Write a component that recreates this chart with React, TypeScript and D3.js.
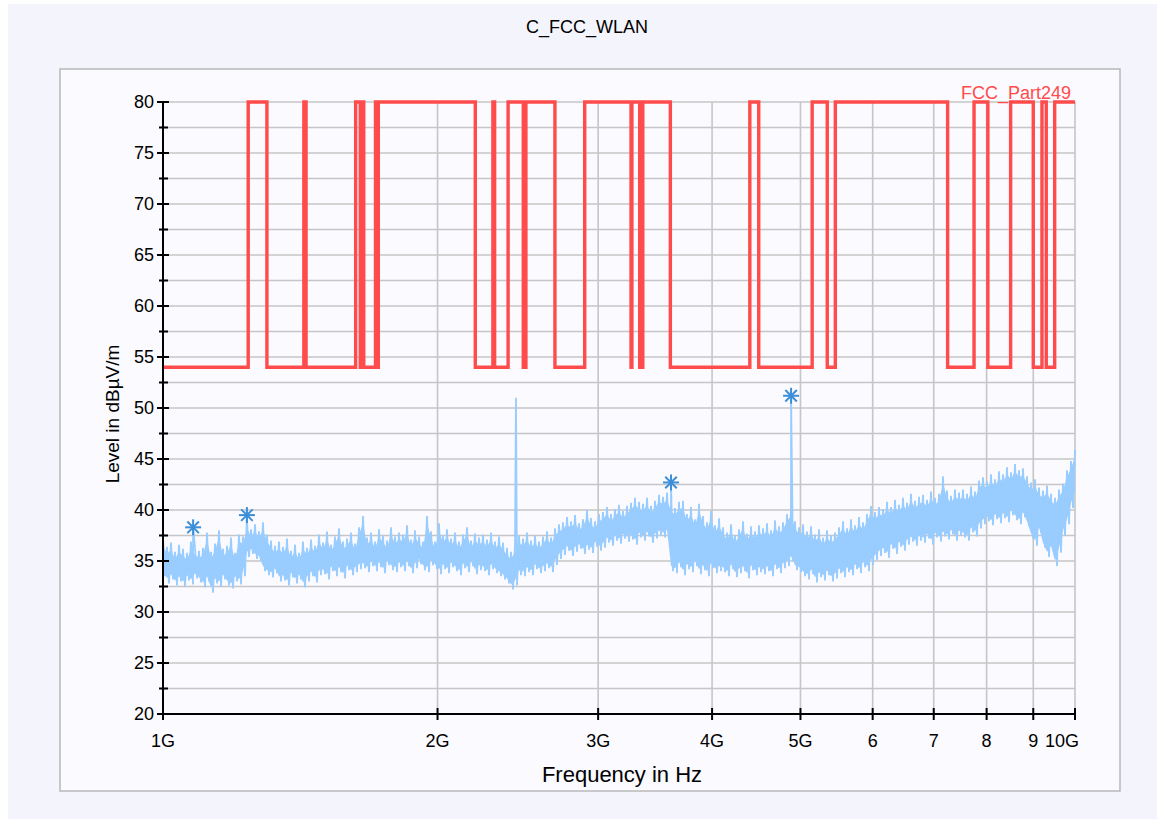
import React from "react";
import * as d3 from "d3";

// ---------- data ----------
const title = "C_FCC_WLAN";
const limitName = "FCC_Part249";
const xTickValues = [1e9, 2e9, 3e9, 4e9, 5e9, 6e9, 7e9, 8e9, 9e9, 1e10];
const xTickLabels = ["1G", "2G", "3G", "4G", "5G", "6", "7", "8", "9", "10G"];
const yMajorTicks = [20, 25, 30, 35, 40, 45, 50, 55, 60, 65, 70, 75, 80];
const yMinorTicks = [22.5, 27.5, 32.5, 37.5, 42.5, 47.5, 52.5, 57.5, 62.5, 67.5, 72.5, 77.5];

// limit line: band edges in GHz and level per band (dBµV/m)
const limitEdgesGHz = [1.0, 1.24, 1.3, 1.427, 1.435, 1.6265, 1.6455, 1.6465, 1.66, 1.71, 1.7188, 1.7222, 2.2, 2.3, 2.31, 2.39, 2.4835, 2.5, 2.69, 2.9, 3.26, 3.267, 3.332, 3.339, 3.3458, 3.358, 3.6, 4.4, 4.5, 5.15, 5.35, 5.46, 7.25, 7.75, 8.025, 8.5, 9.0, 9.2, 9.3, 9.5, 10.0];
const limitLevels = [54, 80, 54, 80, 54, 80, 54, 80, 54, 80, 54, 80, 54, 80, 54, 80, 54, 80, 54, 80, 54, 80, 54, 80, 54, 80, 54, 80, 54, 80, 54, 80, 54, 80, 54, 80, 54, 80, 54, 80];

// measured trace: per display bin (log-spaced 1..10 GHz) max and min values
const traceMax = [
  37.2, 36.4, 36.8, 35.9, 36.6, 36.2, 35.8, 36.9, 36.3, 36.0,
  36.3, 37.8, 35.9, 36.7, 38.0, 36.2, 36.5, 37.3, 35.8, 37.6,
  37.4, 38.9, 38.1, 38.6, 37.9, 38.8, 37.6, 37.0, 36.5, 36.9,
  36.4, 37.2, 36.0, 36.6, 35.8, 36.9, 36.3, 37.1, 36.5, 37.6,
  36.8, 37.9, 36.6, 37.4, 38.2, 36.9, 37.2, 37.8, 36.7, 38.3,
  39.4, 37.3, 37.8, 36.9, 38.1, 37.5, 37.0, 38.3, 37.4, 37.8,
  37.6, 38.5, 37.1, 38.0, 37.4, 36.9, 39.4, 37.9, 36.9, 38.7,
  37.5, 38.1, 37.2, 37.8, 36.9, 37.6, 38.3, 37.0, 37.7, 37.3,
  37.6, 37.1, 37.8, 36.9, 37.4, 36.8, 36.3, 35.9, 36.6, 37.5,
  37.2, 37.8, 37.0, 37.5, 36.9, 37.4, 37.9, 37.3, 38.2, 38.6,
  38.8, 39.3, 38.9, 39.5, 38.7, 39.1, 40.0, 39.2, 38.9, 39.6,
  39.8, 40.3, 39.6, 40.1, 40.5, 39.9, 40.4, 40.7, 41.2, 40.8,
  40.6, 41.2, 40.4, 40.9, 41.5, 41.3, 41.7, 40.6, 40.2, 40.8,
  40.9, 39.6, 40.3, 39.1, 40.6, 39.4, 38.8, 39.9, 38.5, 39.2,
  38.3, 37.8, 38.6, 37.5, 38.1, 38.9, 37.7, 38.4, 37.9, 38.5,
  38.2, 38.7, 38.0, 39.0, 38.4, 38.8, 39.6, 40.1, 38.9, 38.3,
  38.6, 37.9, 38.4, 37.6, 38.1, 37.3, 38.0, 37.5, 37.8, 38.3,
  38.9, 38.2, 39.1, 38.5, 39.3, 38.8, 39.6, 40.4, 39.8, 40.3,
  40.1, 40.8, 40.3, 41.0, 40.5, 41.2, 40.7, 41.6, 40.9, 41.3,
  41.5, 41.0, 41.8, 41.2, 41.6, 43.3, 41.9, 41.4, 42.0, 41.7,
  42.0, 41.6, 42.3, 41.8, 42.9, 43.2, 42.8, 43.5, 43.0, 43.8,
  43.5, 44.2, 43.7, 44.5, 43.9, 44.1, 43.3, 42.7, 43.0, 42.2,
  41.9, 42.4, 41.6, 41.2, 42.0, 42.6, 43.9, 44.8, 45.9,
];
const traceMin = [
  33.5, 32.8, 33.2, 32.6, 33.0, 32.5, 33.1, 32.7, 33.3, 32.9,
  32.4, 33.0, 31.9, 32.8, 32.5, 33.2, 32.6, 32.3, 33.0, 32.7,
  33.5, 35.4, 35.7, 35.2, 35.0, 34.0, 33.6, 33.4, 33.8, 33.0,
  33.1, 32.6, 33.4, 32.8, 33.2, 32.4, 33.0, 33.5, 32.9, 33.6,
  33.7, 33.2, 34.0, 33.5, 33.9, 33.3, 34.1, 33.6, 33.9, 34.2,
  34.3, 33.9, 34.5, 34.0, 34.4, 33.8, 34.6, 34.1, 33.9, 34.4,
  34.0, 34.5, 33.8, 34.3, 34.7, 34.1, 33.9, 34.6, 34.2, 33.7,
  34.2, 33.8, 34.4, 34.0, 33.6, 34.3, 33.9, 34.5, 33.7, 34.1,
  34.0, 33.6, 34.2, 33.8, 33.5, 33.2, 32.8, 32.2, 32.6, 33.6,
  33.5, 33.9, 33.6, 34.2, 33.8, 34.0, 34.3, 33.9, 34.6, 35.2,
  35.6, 36.0, 35.5, 35.9, 36.2, 35.7, 36.1, 35.8, 36.4, 36.0,
  36.3, 36.8, 36.5, 37.0, 36.7, 37.2, 36.9, 37.1, 36.6, 37.3,
  37.0, 37.4, 36.8, 37.2, 37.5, 37.3, 37.6, 34.0, 33.8, 34.4,
  33.6, 34.2, 33.9, 34.5, 33.7, 34.1, 33.5, 34.3, 33.8, 34.0,
  33.9, 33.5, 34.2, 33.4, 33.8, 34.0, 33.3, 34.1, 33.6, 33.9,
  33.7, 34.0, 33.5, 34.2, 33.8, 34.3, 34.5, 35.0, 34.1, 33.9,
  33.5, 33.2, 33.7, 32.9, 33.4, 33.1, 33.6, 33.0, 33.3, 33.8,
  33.4, 33.9, 33.6, 34.2, 33.8, 34.4, 34.0, 34.6, 35.1, 35.5,
  35.8, 35.3, 36.2, 35.7, 36.4, 36.0, 36.6, 36.9, 36.5, 37.0,
  36.8, 37.2, 36.6, 37.3, 36.9, 37.4, 37.1, 37.6, 37.0, 37.5,
  37.3, 37.0, 37.8, 37.4, 38.2, 38.6, 38.9, 38.5, 39.1, 38.7,
  39.2, 38.8, 39.5, 39.0, 38.6, 39.3, 38.4, 37.2, 36.5, 37.8,
  36.3, 35.4, 36.0, 34.5, 35.8, 37.5, 38.6, 40.2, 41.3,
];

// narrow emissions in the trace (GHz, dBµV/m)
const peakFreqGHz = [1.079, 1.236, 2.438, 3.606, 4.883];
const peakLevel = [38.3, 39.4, 51.0, 42.6, 51.1];

// markers
const markerFreqGHz = [1.079, 1.236, 3.606, 4.883];
const markerLevel = [38.3, 39.5, 42.7, 51.2];

// ---------- layout ----------
const W = 1165;
const H = 825;
const plotLeft = 163;
const plotRight = 1075;
const plotTop = 102;
const plotBottom = 714;
const FONT = "'Liberation Sans', Arial, sans-serif";

export default function App() {
  const x = d3.scaleLog().domain([1e9, 1e10]).range([plotLeft, plotRight]);
  const y = d3.scaleLinear().domain([20, 80]).range([plotBottom, plotTop]);

  // limit points
  const limitPts: [number, number][] = [];
  limitLevels.forEach((lv, i) => {
    limitPts.push([limitEdgesGHz[i] * 1e9, lv]);
    limitPts.push([limitEdgesGHz[i + 1] * 1e9, lv]);
  });
  const limitLine = d3
    .line<[number, number]>()
    .x((d) => x(d[0]))
    .y((d) => y(d[1]));

  // trace points
  const n = traceMax.length - 1;
  const binFreq = traceMax.map((_, i) => Math.pow(10, 9 + i / n));
  const tracePts: [number, number][] = [];
  traceMax.forEach((hi, i) => {
    tracePts.push([binFreq[i], hi]);
    if (i < n) {
      const fLo = Math.pow(10, 9 + (i + 0.5) / n);
      tracePts.push([fLo, traceMin[i]]);
    }
  });
  peakFreqGHz.forEach((f, i) => tracePts.push([f * 1e9, peakLevel[i]]));
  tracePts.sort((a, b) => a[0] - b[0]);
  const traceLine = d3
    .line<[number, number]>()
    .x((d) => x(d[0]))
    .y((d) => y(d[1]));

  // solid core of the noise band (between each bin's min and max, drawn slightly inside)
  const bandArea = d3
    .area<number>()
    .x((_, i) => x(binFreq[i]))
    .y0((_, i) => y(traceMin[i] + 0.5))
    .y1((_, i) => y(traceMax[i] - 0.7));

  const gridColor = "#c6c6c6";
  const traceColor = "#99ccff";

  return (
    <svg
      width={W}
      height={H}
      style={{ position: "absolute", left: 0, top: 0 }}
      xmlns="http://www.w3.org/2000/svg"
    >
      <rect x={0} y={0} width={W} height={H} fill="#ffffff" />
      <rect x={8} y={4} width={W - 16} height={H - 10} fill="#f4f5fc" />
      <text
        x={587}
        y={33}
        textAnchor="middle"
        fontFamily={FONT}
        fontSize={18}
        fill="#000"
      >
        {title}
      </text>
      {/* panel */}
      <rect
        x={60}
        y={69}
        width={1060}
        height={722}
        fill="#fafaff"
        stroke="#b8b8b8"
        strokeWidth={1.5}
      />

      {/* grid */}
      {yMajorTicks.concat(yMinorTicks).map((v) => (
        <line
          key={"hg" + v}
          x1={plotLeft}
          x2={plotRight}
          y1={y(v)}
          y2={y(v)}
          stroke={gridColor}
          strokeWidth={1.6}
        />
      ))}
      {xTickValues.map((v) => (
        <line
          key={"vg" + v}
          x1={x(v)}
          x2={x(v)}
          y1={plotTop}
          y2={plotBottom}
          stroke={gridColor}
          strokeWidth={1.6}
        />
      ))}

      {/* trace */}
      <path d={bandArea(traceMax) || ""} fill={traceColor} stroke="none" />
      <path
        d={traceLine(tracePts) || ""}
        fill="none"
        stroke={traceColor}
        strokeWidth={1.8}
        strokeLinejoin="miter"
      />

      {/* limit */}
      <path
        d={limitLine(limitPts) || ""}
        fill="none"
        stroke="#ff4b4b"
        strokeWidth={3.4}
        strokeLinejoin="miter"
      />
      <text
        x={1071}
        y={99}
        textAnchor="end"
        fontFamily={FONT}
        fontSize={18}
        fill="#ff4b4b"
      >
        {limitName}
      </text>

      {/* markers */}
      {markerFreqGHz.map((f, i) => {
        const cx = x(f * 1e9);
        const cy = y(markerLevel[i]);
        const r = 8;
        const d = r * 0.72;
        return (
          <g key={"m" + i} stroke="#3b8fd8" strokeWidth={2}>
            <line x1={cx - r} x2={cx + r} y1={cy} y2={cy} />
            <line x1={cx} x2={cx} y1={cy - r} y2={cy + r} />
            <line x1={cx - d} x2={cx + d} y1={cy - d} y2={cy + d} />
            <line x1={cx - d} x2={cx + d} y1={cy + d} y2={cy - d} />
          </g>
        );
      })}

      {/* axes */}
      <line x1={plotLeft} x2={plotLeft} y1={plotTop} y2={plotBottom + 1} stroke="#000" strokeWidth={2} />
      <line x1={plotLeft - 1} x2={plotRight} y1={plotBottom} y2={plotBottom} stroke="#000" strokeWidth={2} />
      {yMajorTicks.map((v) => (
        <g key={"yt" + v}>
          <line x1={plotLeft - 6} x2={plotLeft + 6} y1={y(v)} y2={y(v)} stroke="#000" strokeWidth={2} />
          <text
            x={plotLeft - 9}
            y={y(v) + 6}
            textAnchor="end"
            fontFamily={FONT}
            fontSize={18}
            fill="#000"
          >
            {v}
          </text>
        </g>
      ))}
      {yMinorTicks.map((v) => (
        <line key={"ym" + v} x1={plotLeft - 4} x2={plotLeft + 5} y1={y(v)} y2={y(v)} stroke="#000" strokeWidth={2} />
      ))}
      {xTickValues.map((v, i) => (
        <g key={"xt" + v}>
          <line x1={x(v)} x2={x(v)} y1={plotBottom - 6} y2={plotBottom + 6} stroke="#000" strokeWidth={2} />
          <text
            x={i === xTickValues.length - 1 ? x(v) - 13 : x(v)}
            y={plotBottom + 33}
            textAnchor="middle"
            fontFamily={FONT}
            fontSize={18}
            fill="#000"
          >
            {xTickLabels[i]}
          </text>
        </g>
      ))}
      <text
        x={622}
        y={782}
        textAnchor="middle"
        fontFamily={FONT}
        fontSize={22}
        fill="#000"
      >
        Frequency in Hz
      </text>
      <text
        transform={`translate(119, 414) rotate(-90)`}
        textAnchor="middle"
        fontFamily={FONT}
        fontSize={19}
        fill="#000"
      >
        Level in dBµV/m
      </text>
    </svg>
  );
}
